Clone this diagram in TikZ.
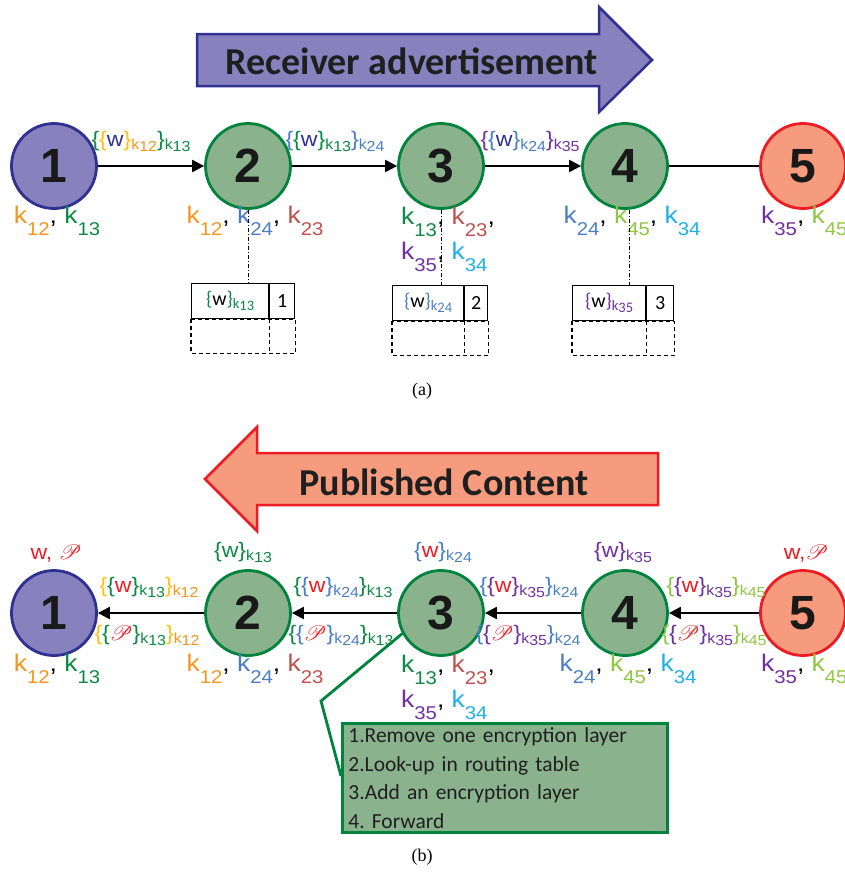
\documentclass[tikz,border=0pt]{standalone}
\usepackage[dvipsnames,svgnames,x11names]{xcolor}
\usepackage{fontspec}
\usepackage{mathrsfs}
\usepackage{tikz}
\usetikzlibrary{arrows.meta,positioning}

\setmainfont{Liberation Sans}
\newfontfamily\lblfont[FakeStretch=1.1]{Liberation Sans}
\newfontfamily\calib{Carlito}
\newfontfamily\capfont{Liberation Serif}
\frenchspacing

\definecolor{nodeblue}{HTML}{8781BD}
\definecolor{darkblue}{HTML}{2E3192}
\definecolor{nodegreen}{HTML}{8AB38D}
\definecolor{darkgreen}{HTML}{00843D}
\definecolor{nodesalmon}{HTML}{F79B7E}
\definecolor{brightred}{HTML}{ED1C24}
\definecolor{kyellow}{HTML}{FFC20E}
\definecolor{korange}{HTML}{F7941D}
\definecolor{kgreen}{HTML}{0B8A44}
\definecolor{kblue}{HTML}{4A7EC4}
\definecolor{kred}{HTML}{C0504D}
\definecolor{kpurple}{HTML}{7030A0}
\definecolor{kcyan}{HTML}{1CB0E6}
\definecolor{klime}{HTML}{8DC63F}
\definecolor{wnavy}{HTML}{2E3192}

% llaves y subindices de colores
\newcommand{\Lbr}[1]{{\color{#1}\{}}
\newcommand{\Rbr}[1]{{\color{#1}\}}}
\newcommand{\subk}[2]{{\color{#1}\raisebox{-3pt}{\fontsize{14.5}{14.5}\selectfont k\raisebox{-2pt}{#2}}}}
\newcommand{\keyk}[2]{{\color{#1}k\raisebox{-11.5pt}{\fontsize{18.5}{18.5}\selectfont #2}}}
\newcommand{\sglw}[4]{\Lbr{#1}{#2}\Rbr{#1}\subk{#3}{#4}}
\newcommand{\encw}[7]{\Lbr{#1}\Lbr{#2}{#3}\Rbr{#2}\subk{#4}{#5}\Rbr{#1}\subk{#6}{#7}}
\newcommand{\scrP}{{\color{brightred}$\mathscr{P}$}}

\begin{document}
\begin{tikzpicture}[x=1pt, y=-1pt,
    station/.style={circle, minimum size=85pt, inner sep=0pt, line width=2.8pt,
      font=\fontsize{48}{48}\selectfont\bfseries, text=black!90},
    srcnode/.style={station, draw=darkblue, fill=nodeblue},
    relay/.style={station, draw=darkgreen, fill=nodegreen},
    sink/.style={station, draw=brightred, fill=nodesalmon},
    link/.style={line width=2.2pt, -{Triangle[length=12pt,width=12pt]}},
    keylbl/.style={font=\lblfont\fontsize{24}{35}\selectfont, inner sep=0pt},
    msglbl/.style={font=\lblfont\fontsize{21}{21}\selectfont, inner sep=0pt},
    cell/.style={draw, line width=1.2pt, minimum height=35pt, inner sep=0pt,
      anchor=north west, font=\calib\fontsize{20}{20}\selectfont},
    emptycell/.style={line width=1.2pt, dash pattern=on 4pt off 3pt},
    probe/.style={line width=0.9pt, dash pattern=on 4pt off 2pt on 1pt off 2pt},
    banner/.style={line width=2.5pt, line join=miter},
    bannertext/.style={font=\calib\bfseries\fontsize{38}{38}\selectfont, text=black!88},
    notebox/.style={draw=darkgreen, fill=nodegreen, line width=2.8pt, anchor=north west,
      minimum width=325pt, minimum height=109pt, text width=313pt, inner xsep=6pt,
      align=left, font=\calib\fontsize{21.5}{28.5}\selectfont, text=black!88},
    caption/.style={font=\capfont\fontsize{18}{18}\selectfont},
  ]
  \useasboundingbox (0,0) rectangle (845,878);

  % ---------------- (a) Receiver advertisement ----------------
  \draw[banner, draw=darkblue, fill=nodeblue]
    (197,34) -- (599,34) -- (599,7) -- (652,60) -- (599,112) -- (599,86) -- (197,86) -- cycle;
  \node[bannertext] (adv) at (412,61) {Receiver advertisement};

  % Nodos
  \node[srcnode] (a1) at (54,166) {1};
  \node[relay]   (a2) at (248,166) {2};
  \node[relay]   (a3) at (441,166) {3};
  \node[relay]   (a4) at (625,166) {4};
  \node[sink]    (a5) at (803,166) {5};

  \draw[link] (a1) -- (a2);
  \draw[link] (a2) -- (a3);
  \draw[link] (a3) -- (a4);
  \draw[line width=2.2pt] (a4) -- (a5);

  % Mensajes sobre los enlaces
  \node[msglbl] (ma12) at (141,141) {\encw{kgreen}{kyellow}{\color{wnavy}w}{korange}{12}{kgreen}{13}};
  \node[msglbl] (ma23) at (335,141) {\encw{kblue}{kgreen}{\color{wnavy}w}{kgreen}{13}{kblue}{24}};
  \node[msglbl] (ma34) at (530,141) {\encw{kpurple}{kblue}{\color{wnavy}w}{kblue}{24}{kpurple}{35}};

  % Claves de cada nodo
  \node[keylbl] (ka1) at (57,221) {\keyk{korange}{12}, \keyk{kgreen}{13}};
  \node[keylbl] (ka2) at (255,221) {\keyk{korange}{12}, \keyk{kblue}{24}, \keyk{kred}{23}};
  \node[keylbl, align=left, anchor=north west] (ka3) at (401,207)
    {\keyk{kgreen}{13}, \keyk{kred}{23},\\\keyk{kpurple}{35}, \keyk{kcyan}{34}};
  \node[keylbl] (ka4) at (632,221) {\keyk{kblue}{24}, \keyk{klime}{45}, \keyk{kcyan}{34}};
  \node[keylbl, anchor=west] (ka5) at (761,221) {\keyk{kpurple}{35}, \keyk{klime}{45}};

  % Tablas de encaminamiento
  \node[cell, minimum width=77pt] (t1w) at (191,283) {\sglw{kgreen}{w}{kgreen}{13}};
  \node[cell, minimum width=25pt] (t1n) at (t1w.north east) {1};
  \draw[emptycell] (t1w.south west) rectangle ([yshift=-34pt]t1n.south east);
  \draw[emptycell] (t1n.south west) -- ++(0,34);

  \node[cell, minimum width=71pt] (t2w) at (392,285) {\sglw{kblue}{w}{kblue}{24}};
  \node[cell, minimum width=23pt] (t2n) at (t2w.north east) {2};
  \draw[emptycell] (t2w.south west) rectangle ([yshift=-34pt]t2n.south east);
  \draw[emptycell] (t2n.south west) -- ++(0,34);

  \node[cell, minimum width=73pt] (t3w) at (572,285) {\sglw{kpurple}{w}{kpurple}{35}};
  \node[cell, minimum width=27pt] (t3n) at (t3w.north east) {3};
  \draw[emptycell] (t3w.south west) rectangle ([yshift=-34pt]t3n.south east);
  \draw[emptycell] (t3n.south west) -- ++(0,34);

  \draw[probe] (a2.south) -- (a2.south |- t1w.north);
  \draw[probe] (a3.south) -- (a3.south |- t2w.north);
  \draw[probe] ([xshift=4pt]a4.south) -- ([xshift=4pt]a4.south |- t3w.north);

  \node[caption] (capa) at (422,391) {(a)};

  % ---------------- (b) Published Content ----------------
  \draw[banner, draw=brightred, fill=nodesalmon]
    (205,479) -- (257,427) -- (257,453) -- (658,453) -- (658,505) -- (257,505) -- (257,531) -- cycle;
  \node[bannertext] (pub) at (444,482) {Published Content};

  \node[srcnode] (b1) at (54,613) {1};
  \node[relay]   (b2) at (248,613) {2};
  \node[relay]   (b3) at (441,613) {3};
  \node[relay]   (b4) at (625,613) {4};
  \node[sink]    (b5) at (803,613) {5};

  \draw[link] (b2) -- (b1);
  \draw[link] (b3) -- (b2);
  \draw[link] (b4) -- (b3);
  \draw[link] (b5) -- (b4);

  % Contenido en cada nodo
  \node[msglbl] (cb1) at (56,554) {\color{brightred}w, \scrP};
  \node[msglbl] (cb2) at (243,552) {\sglw{kgreen}{\color{kgreen}w}{kgreen}{13}};
  \node[msglbl] (cb3) at (443,552) {\sglw{kblue}{\color{brightred}w}{kblue}{24}};
  \node[msglbl] (cb4) at (623,552) {\sglw{kpurple}{\color{kpurple}w}{kpurple}{35}};
  \node[msglbl] (cb5) at (806,554) {\color{brightred}w,\scrP};

  % Mensajes cifrados
  \node[msglbl] (mb21) at (149,587) {\encw{kyellow}{kgreen}{\color{brightred}w}{kgreen}{13}{korange}{12}};
  \node[msglbl] (pb21) at (147,635) {\encw{kyellow}{kgreen}{\scrP}{kgreen}{13}{korange}{12}};
  \node[msglbl] (mb32) at (343,587) {\encw{kgreen}{kblue}{\color{brightred}w}{kblue}{24}{kgreen}{13}};
  \node[msglbl] (pb32) at (341,635) {\encw{kgreen}{kblue}{\scrP}{kblue}{24}{kgreen}{13}};
  \node[msglbl] (mb43) at (529,587) {\encw{kblue}{kpurple}{\color{brightred}w}{kpurple}{35}{kblue}{24}};
  \node[msglbl] (pb43) at (528,635) {\encw{kblue}{kpurple}{\scrP}{kpurple}{35}{kblue}{24}};
  \node[msglbl] (mb54) at (716,587) {\encw{klime}{kpurple}{\color{brightred}w}{kpurple}{35}{klime}{45}};
  \node[msglbl] (pb54) at (714,635) {\encw{klime}{kpurple}{\scrP}{kpurple}{35}{klime}{45}};

  \node[keylbl] (kb1) at (57,669) {\keyk{korange}{12}, \keyk{kgreen}{13}};
  \node[keylbl] (kb2) at (255,669) {\keyk{korange}{12}, \keyk{kblue}{24}, \keyk{kred}{23}};
  \node[keylbl, align=left, anchor=north west] (kb3) at (401,655)
    {\keyk{kgreen}{13}, \keyk{kred}{23},\\\keyk{kpurple}{35}, \keyk{kcyan}{34}};
  \node[keylbl] (kb4) at (628,669) {\keyk{kblue}{24}, \keyk{klime}{45}, \keyk{kcyan}{34}};
  \node[keylbl, anchor=west] (kb5) at (761,669) {\keyk{kpurple}{35}, \keyk{klime}{45}};

  % Nota: pasos en el nodo 3
  \coordinate (bend) at (321,701);
  \draw[draw=darkgreen, line width=2.8pt, line join=miter] (b3.208) -- (bend) -- (341,776);
  \node[notebox] (steps) at (341,722)
    {1.Remove one encryption layer\\2.Look-up in routing table\\3.Add an encryption layer\\4. Forward};

  \node[caption] (capb) at (422,857) {(b)};
\end{tikzpicture}
\end{document}
